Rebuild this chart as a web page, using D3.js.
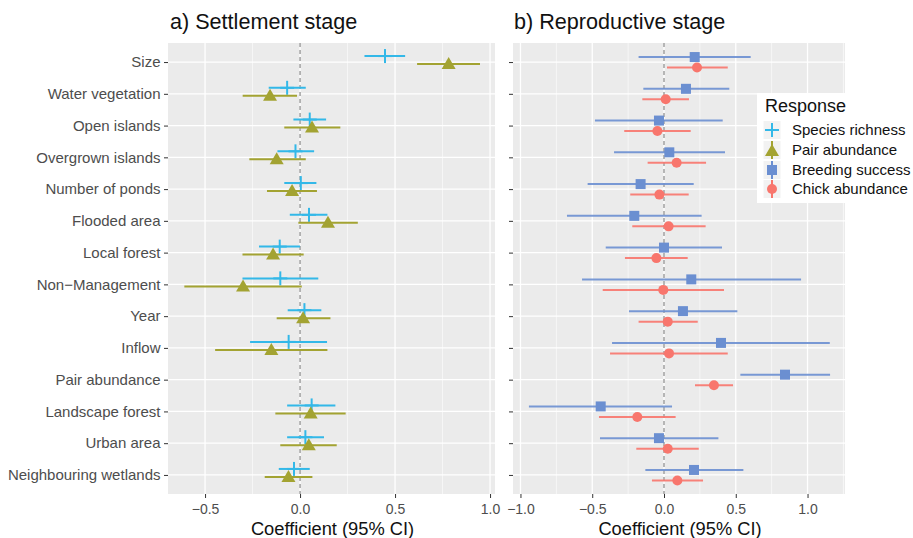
<!DOCTYPE html>
<html><head><meta charset="utf-8">
<script src="https://cdn.jsdelivr.net/npm/d3@7"></script>
<style>body{margin:0;background:#fff}svg{display:block;font-family:"Liberation Sans",Arial,sans-serif}</style>
</head><body>
<script>
const categories = ["Size","Water vegetation","Open islands","Overgrown islands","Number of ponds","Flooded area","Local forest","Non\u2212Management","Year","Inflow","Pair abundance","Landscape forest","Urban area","Neighbouring wetlands"];
// a) Settlement stage
const richEst = [0.447,-0.068,0.051,-0.024,0.004,0.047,-0.107,-0.104,0.023,-0.060,null,0.061,0.028,-0.032];
const richLo  = [0.339,-0.165,-0.035,-0.119,-0.083,-0.054,-0.216,-0.303,-0.065,-0.263,null,-0.068,-0.068,-0.112];
const richHi  = [0.553,0.030,0.137,0.074,0.086,0.144,0.000,0.096,0.112,0.142,null,0.186,0.126,0.051];
const pairEst = [0.782,-0.158,0.063,-0.123,-0.042,0.147,-0.142,-0.300,0.016,-0.151,null,0.056,0.046,-0.061];
const pairLo  = [0.616,-0.302,-0.083,-0.267,-0.174,-0.009,-0.303,-0.609,-0.123,-0.447,null,-0.130,-0.104,-0.186];
const pairHi  = [0.947,-0.016,0.212,0.030,0.089,0.304,0.019,0.009,0.160,0.144,null,0.240,0.193,0.065];
// b) Reproductive stage
const breedEst = [0.214,0.153,-0.035,0.037,-0.163,-0.207,0.000,0.190,0.132,0.397,0.843,-0.441,-0.035,0.209];
const breedLo  = [-0.177,-0.144,-0.481,-0.348,-0.532,-0.676,-0.406,-0.571,-0.244,-0.362,0.532,-0.941,-0.446,-0.130];
const breedHi  = [0.604,0.455,0.409,0.425,0.207,0.262,0.404,0.955,0.511,1.155,1.157,0.056,0.379,0.553];
const chickEst = [0.230,0.012,-0.046,0.088,-0.032,0.032,-0.053,-0.005,0.026,0.035,0.348,-0.186,0.026,0.093];
const chickLo  = [0.021,-0.151,-0.277,-0.114,-0.235,-0.221,-0.272,-0.427,-0.177,-0.376,0.216,-0.453,-0.193,-0.084];
const chickHi  = [0.444,0.174,0.186,0.293,0.172,0.290,0.165,0.418,0.235,0.444,0.481,0.081,0.242,0.272];
const leftTicks = [-0.5,0.0,0.5,1.0];
const leftMinor = [-0.25,0.25,0.75];
const rightTicks = [-1.0,-0.5,0.0,0.5,1.0];
const rightMinor = [-0.75,-0.25,0.25,0.75,1.25];
const legendLabels = ["Species richness","Pair abundance","Breeding success","Chick abundance"];

const W=913,H=538;
const COL={rich:"#33b8e8",pair:"#a3a332",breed:"#6b8fd1",chick:"#f8766d"};
const svg=d3.select("body").append("svg").attr("width",W).attr("height",H);

const pTop=43,pBottom=494;
const y=d3.scalePoint().domain(categories).range([pTop,pBottom]).padding(0.6);

function panel(x0,x1,dom,ticks,minor,title,titleX){
  const x=d3.scaleLinear().domain(dom).range([x0,x1]);
  const g=svg.append("g");
  g.append("rect").attr("x",x0).attr("y",pTop).attr("width",x1-x0).attr("height",pBottom-pTop).attr("fill","#ebebeb");
  g.selectAll(".mn").data(minor).join("line").attr("x1",d=>x(d)).attr("x2",d=>x(d)).attr("y1",pTop).attr("y2",pBottom).attr("stroke","#fff").attr("stroke-width",0.6);
  g.selectAll(".mj").data(ticks).join("line").attr("x1",d=>x(d)).attr("x2",d=>x(d)).attr("y1",pTop).attr("y2",pBottom).attr("stroke","#fff").attr("stroke-width",1.3);
  g.selectAll(".hy").data(categories).join("line").attr("x1",x0).attr("x2",x1).attr("y1",d=>y(d)).attr("y2",d=>y(d)).attr("stroke","#fff").attr("stroke-width",1.3);
  g.append("line").attr("x1",x(0)).attr("x2",x(0)).attr("y1",pTop).attr("y2",pBottom).attr("stroke","#8a8a8a").attr("stroke-width",1.2).attr("stroke-dasharray","4,3");
  const ax=d3.axisBottom(x).tickValues(ticks).tickSize(4).tickPadding(3).tickFormat(d3.format(".1f"));
  const axg=g.append("g").attr("transform",`translate(0,${pBottom})`).call(ax);
  axg.select(".domain").remove();
  axg.selectAll("line").attr("stroke","#333").attr("stroke-width",1);
  axg.selectAll("text").attr("fill","#4d4d4d").attr("font-size",14).attr("dy",null).attr("y",20.3).text(d=>d3.format(".1f")(d).replace("-","\u2212"));
  svg.append("text").attr("x",(x0+x1)/2+1).attr("y",534.5).attr("text-anchor","middle").attr("font-size",18.3).attr("fill","#111").text("Coefficient (95% CI)");
  svg.append("text").attr("x",titleX).attr("y",29.3).attr("font-size",21.6).attr("fill","#111").text(title);
  return {x,g};
}

const L=panel(168,495,[-0.695,1.026],leftTicks,leftMinor,"a) Settlement stage",170);
const R=panel(513,845,[-1.052,1.261],rightTicks,rightMinor,"b) Reproductive stage",514);

// y axes
const ayL=d3.axisLeft(y).tickSize(4).tickPadding(3.5);
const ayg=svg.append("g").attr("transform","translate(168,0)").call(ayL);
ayg.select(".domain").remove();
ayg.selectAll("line").attr("stroke","#333");
ayg.selectAll("text").attr("fill","#4d4d4d").attr("font-size",15);
const ayR=d3.axisLeft(y).tickSize(4).tickFormat("");
const ayr=svg.append("g").attr("transform","translate(513,0)").call(ayR);
ayr.select(".domain").remove();
ayr.selectAll("line").attr("stroke","#333");

function series(P,est,lo,hi,off,color,shape,lineOpacity){
  const idx=categories.map((c,i)=>i).filter(i=>est[i]!==null);
  const g=P.g.append("g");
  g.selectAll("line.e").data(idx).join("line").attr("x1",i=>P.x(lo[i])).attr("x2",i=>P.x(hi[i]))
    .attr("y1",i=>y(categories[i])+off).attr("y2",i=>y(categories[i])+off)
    .attr("stroke",color).attr("stroke-width",2).attr("stroke-opacity",lineOpacity);
  idx.forEach(i=>{
    const cx=P.x(est[i]),cy=y(categories[i])+off;
    drawShape(g,shape,cx,cy,color);
  });
}
function drawShape(g,shape,cx,cy,color){
  if(shape==="plus"){
    g.append("line").attr("x1",cx-7).attr("x2",cx+7).attr("y1",cy).attr("y2",cy).attr("stroke",color).attr("stroke-width",2);
    g.append("line").attr("x1",cx).attr("x2",cx).attr("y1",cy-7).attr("y2",cy+7).attr("stroke",color).attr("stroke-width",2);
  } else if(shape==="tri"){
    g.append("path").attr("d",`M${cx},${cy-7}L${cx+7},${cy+5}L${cx-7},${cy+5}Z`).attr("fill",color);
  } else if(shape==="sq"){
    g.append("rect").attr("x",cx-5).attr("y",cy-5).attr("width",10).attr("height",10).attr("fill",color);
  } else {
    g.append("circle").attr("cx",cx).attr("cy",cy).attr("r",5).attr("fill",color);
  }
}
series(L,richEst,richLo,richHi,-6,COL.rich,"plus",1);
series(L,pairEst,pairLo,pairHi,2,COL.pair,"tri",1);
series(R,breedEst,breedLo,breedHi,-5,COL.breed,"sq",0.9);
series(R,chickEst,chickLo,chickHi,5.5,COL.chick,"circle",0.9);

// legend
const lg=svg.append("g");
lg.append("rect").attr("x",757).attr("y",93).attr("width",160).attr("height",110).attr("fill","#fff");
lg.append("text").attr("x",765).attr("y",111.5).attr("font-size",18).attr("fill","#111").text("Response");
const shapes=["plus","tri","sq","circle"],cols=[COL.rich,COL.pair,COL.breed,COL.chick],ky=[130,150,170,189];
legendLabels.forEach((lab,i)=>{
  lg.append("rect").attr("x",763).attr("y",ky[i]-9.5).attr("width",18).attr("height",19).attr("fill","#f2f2f2").attr("stroke","#fff").attr("stroke-width",1);
  if(i>0) lg.append("line").attr("x1",772).attr("x2",772).attr("y1",ky[i]-9).attr("y2",ky[i]+9).attr("stroke",cols[i]).attr("stroke-width",2);
  drawShape(lg,shapes[i],772,ky[i]+(i===1?1:0),cols[i]);
  lg.append("text").attr("x",792).attr("y",ky[i]+5).attr("font-size",15).attr("fill","#111").text(lab);
});
</script>
</body></html>
